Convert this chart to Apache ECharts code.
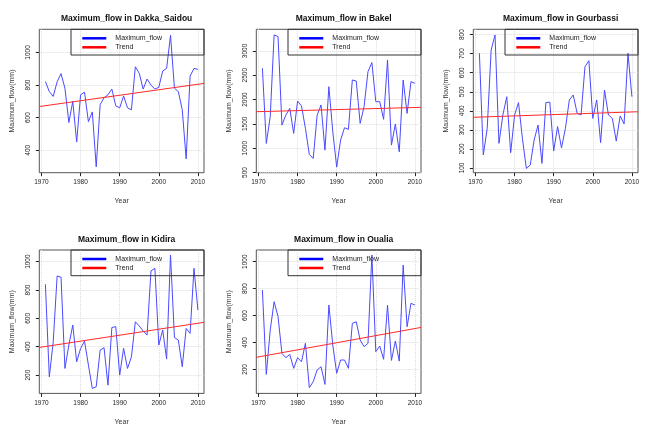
<!DOCTYPE html>
<html>
<head>
<meta charset="utf-8">
<script src="https://cdn.jsdelivr.net/npm/echarts@6/dist/echarts.min.js"></script>
<style>html,body{margin:0;padding:0;background:#fff}#c{width:651px;height:437px}</style>
</head>
<body>
<div id="c"></div>
<script>
// ---- data ----
const years = [1971,1972,1973,1974,1975,1976,1977,1978,1979,1980,1981,1982,1983,1984,1985,1986,1987,1988,1989,1990,
               1991,1992,1993,1994,1995,1996,1997,1998,1999,2000,2001,2002,2003,2004,2005,2006,2007,2008,2009,2010];
const dakkaSaidou = [821,760,730,820,870,780,570,700,450,740,756,575,635,298,680,722,740,775,672,660,
                     733,660,648,912,872,775,837,800,775,786,886,902,1105,780,760,648,347,855,902,896];
const bakel = [2643,1097,1647,3330,3295,1475,1680,1818,1303,1970,1867,1407,870,788,1680,1887,960,2265,1338,610,
               1166,1420,1386,2402,2382,1510,1853,2574,2760,1956,1956,1592,2815,1063,1496,925,2402,1715,2368,2334];
const gourbassi = [702,168,308,719,798,229,378,474,180,378,443,255,98,115,247,325,124,443,446,190,
                   317,205,308,457,483,387,378,632,663,360,457,233,509,378,360,241,373,331,702,474];
const kidira = [840,188,435,899,890,247,412,553,294,388,440,271,106,118,376,393,129,536,541,200,
                388,247,329,576,546,511,482,934,953,412,518,313,1047,464,447,259,529,494,953,659];
const oualia = [790,163,493,703,592,319,287,312,208,287,257,394,64,109,196,220,89,678,381,171,
                270,270,208,542,554,418,369,394,1050,332,374,275,678,267,411,262,975,517,691,678];

// trend line values at left / right edge of the x range
const trendDakka = [668, 810];
const trendBakel = [1750, 1839];
const trendGourbassi = [366, 395];
const trendKidira = [395, 572];
const trendOualia = [290, 512];

// axes
const xRange = [1969.44, 2011.56];
const xTicks = [1970, 1980, 1990, 2000, 2010];
const yRangeDakka = [262, 1142];
const yRangeBakel = [495, 3445];
const yRangeGourbassi = [75, 828];
const yRangeKidira = [71, 1082];
const yRangeOualia = [22, 1087];
const yTicksDakka = [400, 600, 800, 1000];
const yTicksBakel = [500, 1000, 1500, 2000, 2500, 3000];
const yTicksGourbassi = [100, 200, 300, 400, 500, 600, 700, 800];
const yTicksKidira = [200, 400, 600, 800, 1000];
const yTicksOualia = [200, 400, 600, 800, 1000];

const titles = ['Maximum_flow in Dakka_Saidou', 'Maximum_flow in Bakel', 'Maximum_flow in Gourbassi',
                'Maximum_flow in Kidira', 'Maximum_flow in Oualia'];
const seriesNames = ['Maximum_flow', 'Trend'];

// ---- layout ----
const FONT = 'Liberation Sans, Arial, Helvetica, sans-serif';
const gridW = 164.7, gridH = 143.4;
const panels = [
  {title: titles[0], vals: dakkaSaidou, trend: trendDakka, yr: yRangeDakka, yt: yTicksDakka, left: 39.3, top: 29.3},
  {title: titles[1], vals: bakel, trend: trendBakel, yr: yRangeBakel, yt: yTicksBakel, left: 256.3, top: 29.3},
  {title: titles[2], vals: gourbassi, trend: trendGourbassi, yr: yRangeGourbassi, yt: yTicksGourbassi, left: 473.3, top: 29.3},
  {title: titles[3], vals: kidira, trend: trendKidira, yr: yRangeKidira, yt: yTicksKidira, left: 39.3, top: 250},
  {title: titles[4], vals: oualia, trend: trendOualia, yr: yRangeOualia, yt: yTicksOualia, left: 256.3, top: 250}
];
const plain = v => String(Math.round(v));

const option = {
  animation: false,
  backgroundColor: '#ffffff',
  title: panels.map(p => ({
    text: p.title,
    left: p.left + gridW / 2,
    top: p.top - 19.8,
    textAlign: 'center',
    textStyle: {fontFamily: FONT, fontSize: 8.5, fontWeight: 'bold', color: '#111'}
  })),
  grid: panels.map(p => ({
    left: p.left, top: p.top, width: gridW, height: gridH,
    show: true, borderColor: '#555', borderWidth: 1, backgroundColor: 'transparent'
  })),
  xAxis: panels.map((p, i) => ({
    type: 'value', gridIndex: i, min: xRange[0], max: xRange[1],
    name: 'Year', nameLocation: 'middle', nameGap: 25,
    nameTextStyle: {fontFamily: FONT, fontSize: 7, color: '#333'},
    axisLine: {show: false},
    axisTick: {show: true, length: 3.5, lineStyle: {color: '#222', width: 1}, customValues: xTicks},
    axisLabel: {customValues: xTicks, formatter: plain, margin: 6.5,
                fontFamily: 'Liberation Sans Narrow, Arial Narrow, ' + FONT, fontSize: 6.5, color: '#222'},
    splitLine: {show: true, lineStyle: {color: '#dcdcdc', type: 'dotted', width: 1}}
  })),
  yAxis: panels.map((p, i) => ({
    type: 'value', gridIndex: i, min: p.yr[0], max: p.yr[1],
    name: 'Maximum_flow(mm)', nameLocation: 'middle', nameGap: 24, nameRotate: 90,
    nameTextStyle: {fontFamily: FONT, fontSize: 7, color: '#333'},
    axisLine: {show: false},
    axisTick: {show: true, length: 3.5, lineStyle: {color: '#222', width: 1}, customValues: p.yt},
    axisLabel: {customValues: p.yt, formatter: plain, rotate: 90, margin: 7.5,
                fontFamily: FONT, fontSize: 6.5, color: '#222'},
    splitLine: {show: true, lineStyle: {color: '#dcdcdc', type: 'dotted', width: 1}}
  })),
  legend: panels.map(p => ({
    orient: 'vertical',
    left: p.left + 43, top: p.top + 4.5,
    itemWidth: 24, itemHeight: 2.5, itemGap: 0, padding: 0,
    selectedMode: false,
    textStyle: {fontFamily: FONT, fontSize: 7, lineHeight: 9, color: '#222', padding: [0, 0, 0, 4]},
    data: [
      {name: seriesNames[0], icon: 'rect', itemStyle: {color: '#0000ff'}},
      {name: seriesNames[1], icon: 'rect', itemStyle: {color: '#ff0000'}}
    ]
  })),
  graphic: panels.map(p => ({
    type: 'rect', silent: true, z: 100,
    shape: {x: p.left + 31.7, y: p.top, width: gridW - 31.7, height: 25.7},
    style: {fill: 'none', stroke: '#333', lineWidth: 1}
  })),
  series: panels.flatMap((p, i) => [
    {
      name: seriesNames[0], type: 'line', xAxisIndex: i, yAxisIndex: i,
      data: years.map((y, k) => [y, p.vals[k]]),
      showSymbol: false, symbol: 'none', silent: true,
      lineStyle: {color: '#4a4aff', width: 1}, itemStyle: {color: '#4a4aff'}
    },
    {
      name: seriesNames[1], type: 'line', xAxisIndex: i, yAxisIndex: i,
      data: [[xRange[0], p.trend[0]], [xRange[1], p.trend[1]]],
      showSymbol: false, symbol: 'none', silent: true,
      lineStyle: {color: '#ff2a2a', width: 1}, itemStyle: {color: '#ff2a2a'}
    }
  ])
};

const chart = echarts.init(document.getElementById('c'), null, {renderer: 'canvas'});
chart.setOption(option);
</script>
</body>
</html>
